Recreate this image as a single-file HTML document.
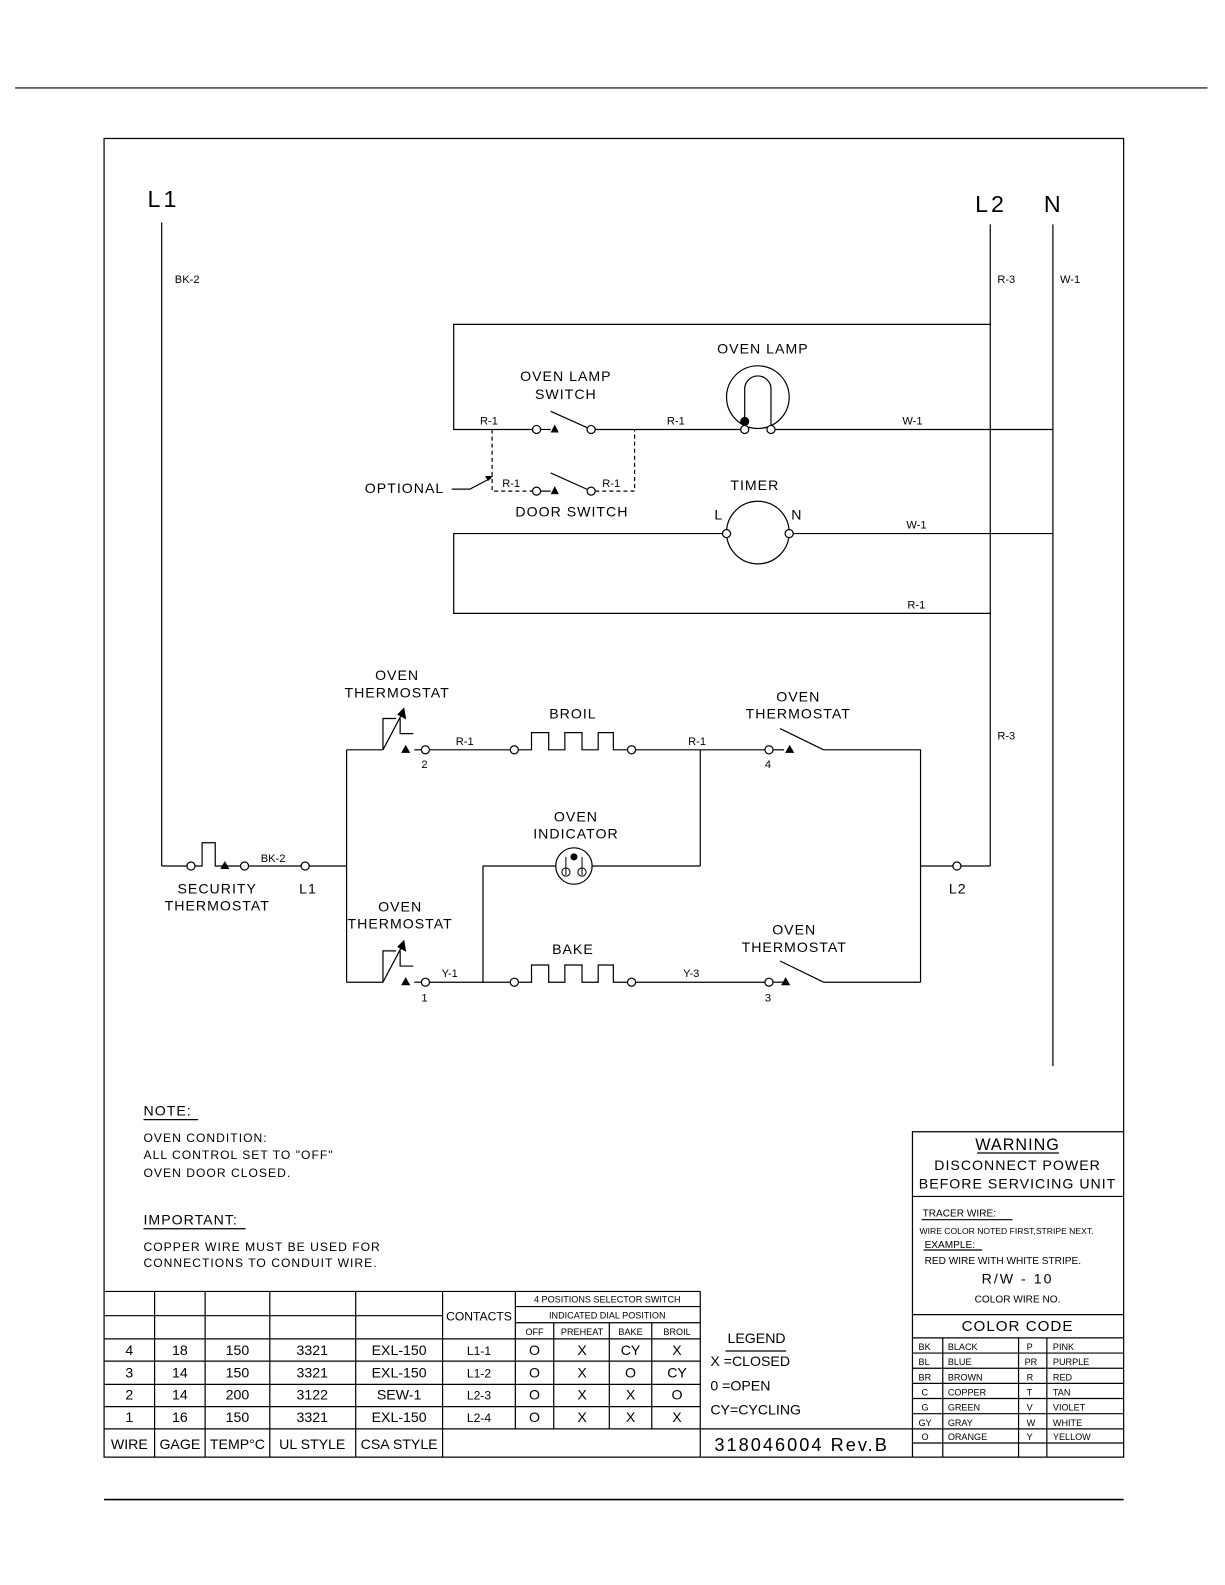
<!DOCTYPE html>
<html><head><meta charset="utf-8"><style>
html,body{margin:0;padding:0;background:#fff;}
svg{display:block;}
text{font-family:"Liberation Sans",sans-serif;fill:#000;}
.s{font-size:11px;} .m{font-size:14px;letter-spacing:1px;} .t{font-size:9px;}
</style></head><body>
<svg width="1225" height="1585" viewBox="0 0 1212.3 1568.5" xmlns="http://www.w3.org/2000/svg">
<g stroke="#000" stroke-width="1.2" fill="none">
<line x1="15" y1="87" x2="1195" y2="87"/>
<rect x="103" y="137" width="1009" height="1305"/>
<line x1="103" y1="1484" x2="1112" y2="1484" stroke-width="1.6"/>
<!-- mains -->
<line x1="160" y1="220" x2="160" y2="857"/>
<line x1="980" y1="222" x2="980" y2="857"/>
<line x1="1042" y1="222" x2="1042" y2="1055"/>
<!-- top box -->
<polyline points="980,321 449,321 449,425 527,425"/>
<line x1="535" y1="425" x2="545" y2="425"/>
<line x1="545" y1="407" x2="585" y2="425"/>
<line x1="589" y1="425" x2="733" y2="425"/>
<line x1="767" y1="425" x2="1042" y2="425"/>
<circle cx="531" cy="425" r="4" fill="#fff"/>
<circle cx="585" cy="425" r="4" fill="#fff"/>
<circle cx="750" cy="393" r="31"/>
<path d="M737,425 V385 A13,13 0 0 1 763,385 V425"/>
<circle cx="737" cy="425" r="4" fill="#fff"/>
<circle cx="763" cy="425" r="4" fill="#fff"/>
<g stroke-dasharray="4,3">
<polyline points="487,425 487,486 527,486"/>
<polyline points="589,486 628,486 628,425"/>
</g>
<line x1="535" y1="486" x2="545" y2="486"/>
<line x1="545" y1="468" x2="585" y2="486"/>
<circle cx="531" cy="486" r="4" fill="#fff"/>
<circle cx="585" cy="486" r="4" fill="#fff"/>
<polyline points="447,484 465,484 486,473"/>
<!-- timer -->
<polyline points="715,528 449,528 449,607 980,607"/>
<line x1="785" y1="528" x2="1042" y2="528"/>
<circle cx="750" cy="527" r="31"/>
<circle cx="719" cy="528" r="4" fill="#fff"/>
<circle cx="781" cy="528" r="4" fill="#fff"/>
<!-- security thermostat row -->
<polyline points="160,857 185,857"/>
<polyline points="193,857 200,857 200,834 213,834 213,857 238,857"/>
<line x1="246" y1="857" x2="298" y2="857"/>
<line x1="306" y1="857" x2="343" y2="857"/>
<circle cx="189" cy="857" r="4" fill="#fff"/>
<circle cx="242" cy="857" r="4" fill="#fff"/>
<circle cx="302" cy="857" r="4" fill="#fff"/>
<line x1="343" y1="742" x2="343" y2="972"/>
<!-- broil row -->
<line x1="343" y1="742" x2="379" y2="742"/>
<polyline points="379,742 379,711 392,711"/>
<line x1="379" y1="742" x2="398" y2="706"/>
<polyline points="396,711 396,726 409,726"/>
<line x1="410" y1="742" x2="417" y2="742"/>
<circle cx="421" cy="742" r="4" fill="#fff"/>
<line x1="425" y1="742" x2="505" y2="742"/>
<circle cx="509" cy="742" r="4" fill="#fff"/>
<polyline points="513,742 526,742 526,725 543,725 543,742 559,742 559,725 576,725 576,742 592,742 592,725 607,725 607,742 621,742"/>
<circle cx="625" cy="742" r="4" fill="#fff"/>
<line x1="629" y1="742" x2="757" y2="742"/>
<line x1="693" y1="742" x2="693" y2="857"/>
<circle cx="761" cy="742" r="4" fill="#fff"/>
<line x1="765" y1="742" x2="776" y2="742"/>
<line x1="772" y1="721" x2="815" y2="742"/>
<polyline points="815,742 911,742 911,972"/>
<!-- indicator row -->
<polyline points="693,857 478,857 478,972"/>
<circle cx="568" cy="857" r="18" fill="#fff"/>
<path d="M560,848 V866 M560,859 a4,4 0 1 0 0.1,0 M576,848 V866 M576,859 a4,4 0 1 1 -0.1,0" stroke-width="1"/>
<line x1="911" y1="857" x2="943" y2="857"/>
<line x1="951" y1="857" x2="980" y2="857"/>
<circle cx="947" cy="857" r="4" fill="#fff"/>
<!-- bake row -->
<line x1="343" y1="972" x2="379" y2="972"/>
<polyline points="379,972 379,941 392,941"/>
<line x1="379" y1="972" x2="398" y2="936"/>
<polyline points="396,941 396,956 409,956"/>
<line x1="410" y1="972" x2="417" y2="972"/>
<circle cx="421" cy="972" r="4" fill="#fff"/>
<line x1="425" y1="972" x2="505" y2="972"/>
<circle cx="509" cy="972" r="4" fill="#fff"/>
<polyline points="513,972 526,972 526,955 543,955 543,972 559,972 559,955 576,955 576,972 592,972 592,955 607,955 607,972 621,972"/>
<circle cx="625" cy="972" r="4" fill="#fff"/>
<line x1="629" y1="972" x2="757" y2="972"/>
<circle cx="761" cy="972" r="4" fill="#fff"/>
<line x1="765" y1="972" x2="776" y2="972"/>
<line x1="772" y1="951" x2="815" y2="972"/>
<line x1="815" y1="972" x2="911" y2="972"/>
<!-- table -->
<line x1="103" y1="1278" x2="693" y2="1278"/>
<line x1="103" y1="1302" x2="438" y2="1302"/>
<line x1="103" y1="1325" x2="693" y2="1325"/>
<line x1="510" y1="1293" x2="693" y2="1293"/>
<line x1="510" y1="1309" x2="693" y2="1309"/>
<line x1="103" y1="1347" x2="693" y2="1347"/>
<line x1="103" y1="1370" x2="693" y2="1370"/>
<line x1="103" y1="1392" x2="693" y2="1392"/>
<line x1="103" y1="1414" x2="903" y2="1414"/>
<g>
<line x1="153" y1="1278" x2="153" y2="1442"/>
<line x1="203" y1="1278" x2="203" y2="1442"/>
<line x1="267" y1="1278" x2="267" y2="1442"/>
<line x1="352" y1="1278" x2="352" y2="1442"/>
<line x1="438" y1="1278" x2="438" y2="1442"/>
<line x1="510" y1="1278" x2="510" y2="1414"/>
<line x1="548" y1="1309" x2="548" y2="1414"/>
<line x1="603" y1="1309" x2="603" y2="1414"/>
<line x1="645" y1="1309" x2="645" y2="1414"/>
<line x1="693" y1="1278" x2="693" y2="1442"/>
</g>
<line x1="718" y1="1337" x2="778" y2="1337"/>
<!-- right box -->
<polyline points="903,1442 903,1120 1112,1120"/>
<line x1="903" y1="1184" x2="1112" y2="1184"/>
<line x1="903" y1="1301" x2="1112" y2="1301"/>
<line x1="903" y1="1324" x2="1112" y2="1324"/>
<line x1="903" y1="1339" x2="1112" y2="1339"/>
<line x1="903" y1="1354" x2="1112" y2="1354"/>
<line x1="903" y1="1369" x2="1112" y2="1369"/>
<line x1="903" y1="1384" x2="1112" y2="1384"/>
<line x1="903" y1="1399" x2="1112" y2="1399"/>
<line x1="903" y1="1414" x2="1112" y2="1414"/>
<line x1="903" y1="1428" x2="1112" y2="1428"/>
<line x1="933" y1="1324" x2="933" y2="1442"/>
<line x1="1008" y1="1324" x2="1008" y2="1442"/>
<line x1="1036" y1="1324" x2="1036" y2="1442"/>
<!-- underlines -->
<line x1="142" y1="1108" x2="196" y2="1108"/>
<line x1="142" y1="1216" x2="243" y2="1216"/>
<line x1="967" y1="1141" x2="1048" y2="1141"/>
<line x1="912" y1="1207" x2="1002" y2="1207"/>
<line x1="914" y1="1237" x2="972" y2="1237"/>
</g>
<!-- filled marks -->
<g fill="#000">
<polygon points="545,428 553,428 549,420"/>
<polygon points="545,489 553,489 549,481"/>
<circle cx="737" cy="417" r="4.5"/>
<circle cx="568" cy="848" r="3.5"/>
<polygon points="218,860 227,860 222.5,852"/>
<polygon points="397,745 406,745 401.5,737"/>
<polygon points="397,975 406,975 401.5,967"/>
<polygon points="777,745 786,745 781.5,737"/>
<polygon points="773,975 782,975 777.5,967"/>
<polygon points="400,700 402,712 393,707"/>
<polygon points="400,930 402,942 393,937"/>
<polygon points="480,471 488,471 483,476"/>
</g>
<!-- labels -->
<text x="146" y="205" style="font-size:23px;letter-spacing:3px">L1</text>
<text x="965" y="210" style="font-size:23px;letter-spacing:3px">L2</text>
<text x="1033" y="210" style="font-size:23px">N</text>
<text class="s" x="173" y="280">BK-2</text>
<text class="s" x="987" y="280">R-3</text>
<text class="s" x="1049" y="280">W-1</text>
<text class="s" x="987" y="732">R-3</text>
<g class="m" text-anchor="middle">
<text x="755" y="350">OVEN LAMP</text>
<text x="560" y="377">OVEN LAMP</text>
<text x="560" y="395">SWITCH</text>
<text x="747" y="485">TIMER</text>
<text x="566" y="511">DOOR SWITCH</text>
<text x="393" y="673">OVEN</text>
<text x="393" y="690">THERMOSTAT</text>
<text x="567" y="711">BROIL</text>
<text x="790" y="694">OVEN</text>
<text x="790" y="711">THERMOSTAT</text>
<text x="570" y="813">OVEN</text>
<text x="570" y="830">INDICATOR</text>
<text x="215" y="884">SECURITY</text>
<text x="215" y="901">THERMOSTAT</text>
<text x="396" y="902">OVEN</text>
<text x="396" y="919">THERMOSTAT</text>
<text x="567" y="944">BAKE</text>
<text x="786" y="925">OVEN</text>
<text x="786" y="942">THERMOSTAT</text>
</g>
<text class="m" x="361" y="488">OPTIONAL</text>
<text class="m" x="707" y="514">L</text>
<text class="m" x="783" y="514">N</text>
<text class="m" x="296" y="884">L1</text>
<text class="m" x="939" y="884">L2</text>
<g class="s">
<text x="475" y="420">R-1</text>
<text x="660" y="420">R-1</text>
<text x="893" y="420">W-1</text>
<text x="497" y="482">R-1</text>
<text x="596" y="482">R-1</text>
<text x="897" y="523">W-1</text>
<text x="898" y="602">R-1</text>
<text x="451" y="737">R-1</text>
<text x="681" y="737">R-1</text>
<text x="258" y="853">BK-2</text>
<text x="437" y="967">Y-1</text>
<text x="676" y="967">Y-3</text>
<text x="417" y="760">2</text>
<text x="757" y="760">4</text>
<text x="417" y="991">1</text>
<text x="757" y="991">3</text>
</g>
<g style="font-size:12px;letter-spacing:1px">
<text x="142" y="1104" style="font-size:14px">NOTE:</text>
<text x="142" y="1130">OVEN CONDITION:</text>
<text x="142" y="1147">ALL CONTROL SET TO "OFF"</text>
<text x="142" y="1165">OVEN DOOR CLOSED.</text>
<text x="142" y="1212" style="font-size:14px">IMPORTANT:</text>
<text x="142" y="1238">COPPER WIRE MUST BE USED FOR</text>
<text x="142" y="1254">CONNECTIONS TO CONDUIT WIRE.</text>
</g>
<!-- table text -->
<g style="font-size:14px" text-anchor="middle">
<text x="128" y="1341">4</text><text x="178" y="1341">18</text><text x="235" y="1341">150</text><text x="309" y="1341">3321</text><text x="395" y="1341">EXL-150</text>
<text x="128" y="1363">3</text><text x="178" y="1363">14</text><text x="235" y="1363">150</text><text x="309" y="1363">3321</text><text x="395" y="1363">EXL-150</text>
<text x="128" y="1385">2</text><text x="178" y="1385">14</text><text x="235" y="1385">200</text><text x="309" y="1385">3122</text><text x="395" y="1385">SEW-1</text>
<text x="128" y="1407">1</text><text x="178" y="1407">16</text><text x="235" y="1407">150</text><text x="309" y="1407">3321</text><text x="395" y="1407">EXL-150</text>
<text x="128" y="1434">WIRE</text><text x="178" y="1434">GAGE</text><text x="235" y="1434">TEMP°C</text><text x="309" y="1434">UL STYLE</text><text x="395" y="1434">CSA STYLE</text>
</g>
<g style="font-size:12px" text-anchor="middle">
<text x="474" y="1307">CONTACTS</text>
<text x="474" y="1341">L1-1</text><text x="474" y="1363">L1-2</text><text x="474" y="1385">L2-3</text><text x="474" y="1407">L2-4</text>
</g>
<g style="font-size:14px" text-anchor="middle">
<text x="529" y="1341">O</text><text x="576" y="1341">X</text><text x="624" y="1341">CY</text><text x="670" y="1341">X</text>
<text x="529" y="1363">O</text><text x="576" y="1363">X</text><text x="624" y="1363">O</text><text x="670" y="1363">CY</text>
<text x="529" y="1385">O</text><text x="576" y="1385">X</text><text x="624" y="1385">X</text><text x="670" y="1385">O</text>
<text x="529" y="1407">O</text><text x="576" y="1407">X</text><text x="624" y="1407">X</text><text x="670" y="1407">X</text>
</g>
<g class="t" text-anchor="middle">
<text x="601" y="1289">4 POSITIONS SELECTOR SWITCH</text>
<text x="601" y="1305">INDICATED DIAL POSITION</text>
<text x="529" y="1321">OFF</text><text x="576" y="1321">PREHEAT</text><text x="624" y="1321">BAKE</text><text x="670" y="1321">BROIL</text>
</g>
<g style="font-size:14px">
<text x="720" y="1329">LEGEND</text>
<text x="703" y="1352">X =CLOSED</text>
<text x="703" y="1376">0 =OPEN</text>
<text x="703" y="1400">CY=CYCLING</text>
</g>
<text x="707" y="1436" style="font-size:18px;letter-spacing:2px">318046004 Rev.B</text>
<!-- right box text -->
<g text-anchor="middle" style="font-size:14px;letter-spacing:1px">
<text x="1007" y="1138" style="font-size:16px">WARNING</text>
<text x="1007" y="1158">DISCONNECT POWER</text>
<text x="1007" y="1176">BEFORE SERVICING UNIT</text>
<text x="1007" y="1270" style="letter-spacing:2px">R/W - 10</text>
<text x="1007" y="1317" style="font-size:15px">COLOR CODE</text>
</g>
<g style="font-size:10px">
<text x="913" y="1204">TRACER WIRE:</text>
<text x="910" y="1221" style="font-size:8.5px">WIRE COLOR NOTED FIRST,STRIPE NEXT.</text>
<text x="915" y="1235">EXAMPLE:</text>
<text x="915" y="1251">RED WIRE WITH WHITE STRIPE.</text>
<text x="1007" y="1289" text-anchor="middle">COLOR WIRE NO.</text>
</g>
<g class="t">
<text x="909" y="1336">BK</text><text x="938" y="1336">BLACK</text><text x="1016" y="1336">P</text><text x="1042" y="1336">PINK</text>
<text x="909" y="1351">BL</text><text x="938" y="1351">BLUE</text><text x="1014" y="1351">PR</text><text x="1042" y="1351">PURPLE</text>
<text x="909" y="1366">BR</text><text x="938" y="1366">BROWN</text><text x="1016" y="1366">R</text><text x="1042" y="1366">RED</text>
<text x="912" y="1381">C</text><text x="938" y="1381">COPPER</text><text x="1016" y="1381">T</text><text x="1042" y="1381">TAN</text>
<text x="912" y="1396">G</text><text x="938" y="1396">GREEN</text><text x="1016" y="1396">V</text><text x="1042" y="1396">VIOLET</text>
<text x="909" y="1411">GY</text><text x="938" y="1411">GRAY</text><text x="1016" y="1411">W</text><text x="1042" y="1411">WHITE</text>
<text x="912" y="1425">O</text><text x="938" y="1425">ORANGE</text><text x="1016" y="1425">Y</text><text x="1042" y="1425">YELLOW</text>
</g>
</svg>
</body></html>
